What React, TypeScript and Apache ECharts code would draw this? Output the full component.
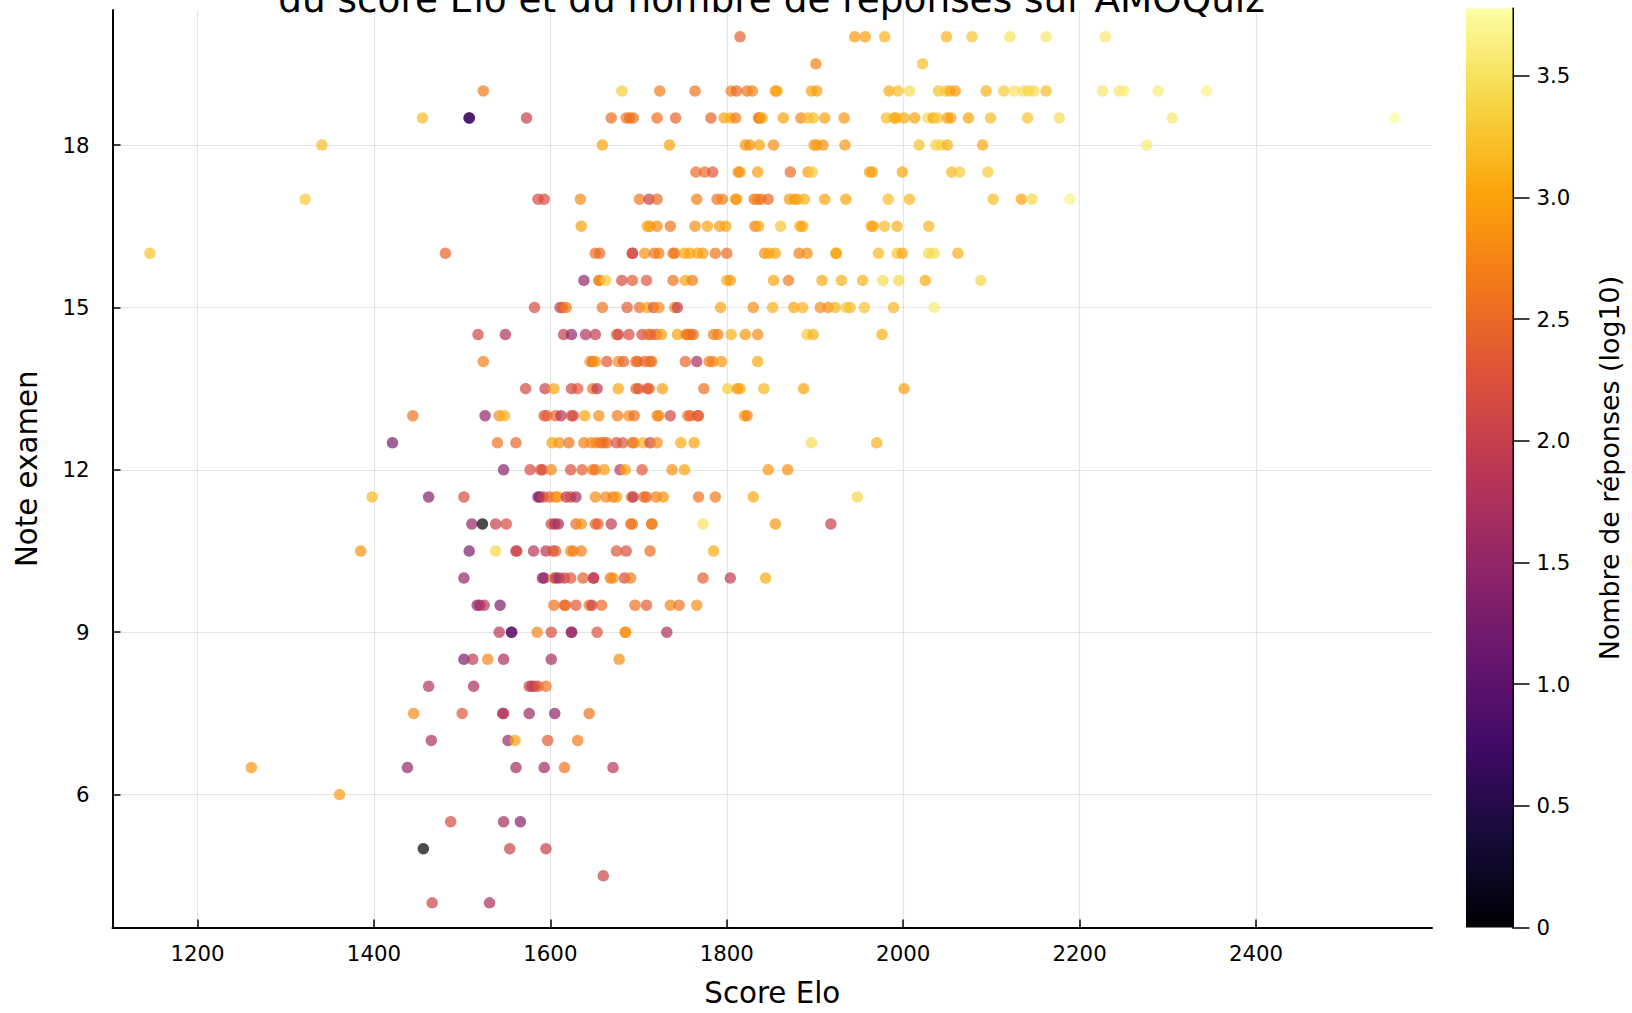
import React, { useEffect, useRef } from "react";
import * as echarts from "echarts";

// each row: [score Elo, log10(nombre de réponses)] for one exam mark
const note20 = [[1815,2.4],[1945,2.9],[1957,2.95],[1979,3.1],[2049,3.1],[2078,3.25],[2121,3.5],[2162,3.55],[2229,3.55]];
const note19_5 = [[1901,2.75],[2022,3.2]];
const note19 = [[1524,2.65],[1681,3.3],[1724,2.7],[1764,2.6],[1805,2.7],[1811,2.5],[1823,2.6],[1829,2.75],[1855,2.85],[1857,3.0],[1896,3.0],[1902,2.95],[1984,3.05],[1994,3.2],[2007,3.45],[2040,3.25],[2048,3.3],[2053,3.05],[2059,2.9],[2094,3.1],[2114,3.3],[2126,3.5],[2136,3.45],[2142,3.4],[2148,3.4],[2162,3.2],[2226,3.55],[2245,3.55],[2250,3.6],[2289,3.6],[2344,3.65]];
const note18_5 = [[1455,3.2],[1508,0.7],[1508,0.7],[1573,2.0],[1669,2.55],[1686,2.65],[1690,2.5],[1694,2.6],[1721,2.55],[1742,2.45],[1782,2.45],[1797,3.0],[1804,3.1],[1810,2.7],[1836,2.6],[1837,2.7],[1840,3.0],[1864,3.0],[1884,2.75],[1892,3.2],[1898,3.2],[1911,3.0],[1933,2.9],[1981,3.2],[1990,3.05],[1992,3.05],[2001,3.05],[2013,3.0],[2028,3.45],[2034,3.0],[2039,3.3],[2050,3.0],[2054,2.95],[2074,3.0],[2099,3.2],[2141,3.25],[2177,3.45],[2305,3.55],[2557,3.75]];
const note18 = [[1341,3.2],[1659,3.0],[1735,3.0],[1821,2.9],[1826,2.85],[1837,3.0],[1853,2.8],[1899,2.9],[1902,2.95],[1909,2.85],[1934,2.9],[2018,3.25],[2037,3.35],[2043,3.35],[2050,3.1],[2090,3.05],[2276,3.6]];
const note17_5 = [[1765,2.5],[1775,2.5],[1784,2.3],[1813,2.75],[1815,2.9],[1835,2.95],[1872,2.5],[1892,2.95],[1897,3.3],[1962,2.95],[1965,3.0],[1999,3.0],[2055,3.15],[2064,3.3],[2096,3.3]];
const note17 = [[1322,3.3],[1586,2.2],[1593,2.2],[1634,2.8],[1701,2.65],[1712,2.0],[1721,2.5],[1766,2.7],[1789,2.6],[1795,2.7],[1810,2.9],[1811,2.9],[1831,2.6],[1835,2.7],[1839,2.6],[1847,2.5],[1871,2.9],[1877,2.95],[1880,3.0],[1888,3.1],[1911,3.0],[1935,3.0],[1983,3.2],[2007,3.15],[2102,3.2],[2134,3.0],[2146,3.4],[2189,3.65]];
const note16_5 = [[1635,3.0],[1710,2.95],[1713,3.0],[1721,2.8],[1736,2.6],[1764,2.8],[1778,3.0],[1792,2.9],[1799,3.0],[1832,2.7],[1836,3.0],[1861,3.25],[1883,3.0],[1886,3.0],[1964,3.0],[1966,3.0],[1979,3.2],[1993,3.1],[2029,3.15]];
const note16 = [[1146,3.25],[1481,2.45],[1651,2.55],[1656,2.5],[1693,2.1],[1693,2.2],[1707,2.85],[1718,2.6],[1723,2.7],[1739,2.7],[1741,2.6],[1752,3.0],[1758,3.0],[1767,3.0],[1773,2.9],[1787,2.6],[1800,2.5],[1843,2.8],[1848,3.0],[1855,3.0],[1882,2.7],[1891,2.8],[1924,3.0],[1924,3.0],[1972,3.15],[1993,3.3],[1999,3.0],[2029,3.4],[2035,3.45],[2062,3.1]];
const note15_5 = [[1638,1.5],[1655,2.5],[1656,2.8],[1663,3.3],[1681,2.2],[1693,2.35],[1709,2.3],[1739,2.6],[1753,3.0],[1761,2.7],[1800,3.1],[1804,2.9],[1853,3.0],[1870,2.65],[1908,3.05],[1930,3.1],[1954,3.1],[1977,3.45],[1995,3.4],[2025,3.05],[2088,3.4]];
const note15 = [[1582,2.2],[1611,2.0],[1614,2.3],[1618,2.7],[1659,2.6],[1687,2.35],[1701,2.55],[1710,3.0],[1717,2.3],[1723,2.8],[1741,2.85],[1744,2.0],[1793,3.0],[1830,2.8],[1852,3.1],[1876,3.0],[1886,3.1],[1906,2.8],[1915,2.8],[1923,3.1],[1936,3.25],[1940,3.2],[1956,3.25],[1989,3.15],[2035,3.6]];
const note14_5 = [[1518,2.1],[1549,1.8],[1615,2.0],[1624,1.5],[1640,1.8],[1651,1.95],[1675,2.5],[1677,2.1],[1689,2.2],[1704,2.2],[1711,2.5],[1714,2.5],[1720,2.4],[1726,2.95],[1744,3.0],[1754,2.6],[1756,2.6],[1759,2.7],[1762,2.5],[1785,2.7],[1790,2.7],[1805,3.1],[1821,2.9],[1835,2.8],[1891,3.3],[1898,3.1],[1976,3.1]];
const note14 = [[1524,2.7],[1645,2.85],[1648,2.5],[1651,2.9],[1664,2.3],[1677,2.8],[1683,2.4],[1697,2.5],[1699,2.5],[1707,2.4],[1713,2.5],[1715,2.6],[1753,2.45],[1766,1.7],[1780,2.7],[1784,2.7],[1794,2.9],[1835,3.05]];
const note13_5 = [[1572,2.15],[1594,2.05],[1604,3.0],[1624,2.1],[1631,2.3],[1648,2.6],[1653,1.9],[1677,3.0],[1697,2.5],[1700,2.3],[1710,2.3],[1712,2.4],[1727,2.95],[1774,2.55],[1801,3.3],[1812,2.85],[1815,3.0],[1842,3.15],[1887,3.0],[2001,2.95]];
const note13 = [[1444,2.6],[1526,1.5],[1542,2.8],[1548,3.1],[1593,2.3],[1596,2.4],[1606,2.5],[1612,1.8],[1624,2.2],[1626,2.2],[1639,3.0],[1655,2.8],[1676,2.65],[1689,2.8],[1695,2.55],[1721,2.8],[1723,2.75],[1736,2.1],[1756,2.5],[1759,2.5],[1767,2.2],[1768,2.45],[1820,3.0],[1823,2.7]];
const note12_5 = [[1421,1.25],[1540,2.6],[1561,2.45],[1602,3.0],[1610,2.85],[1621,2.6],[1638,2.7],[1646,2.8],[1652,2.7],[1657,2.6],[1660,2.65],[1664,2.5],[1675,2.25],[1682,2.3],[1693,2.5],[1695,2.7],[1705,3.1],[1713,2.1],[1721,2.8],[1748,3.05],[1763,3.0],[1896,3.45],[1970,3.1]];
const note12 = [[1547,1.4],[1577,2.2],[1589,2.3],[1591,2.2],[1601,2.75],[1623,2.25],[1636,2.4],[1648,2.7],[1651,2.6],[1661,2.9],[1679,1.9],[1685,3.0],[1704,2.3],[1738,2.85],[1752,3.0],[1847,2.9],[1869,2.85]];
const note11_5 = [[1398,3.15],[1462,1.35],[1502,2.2],[1586,1.2],[1588,1.4],[1592,2.0],[1599,2.4],[1606,2.6],[1609,3.0],[1618,1.9],[1623,2.1],[1629,1.7],[1651,2.8],[1663,2.75],[1671,2.7],[1675,2.9],[1692,2.6],[1694,1.9],[1706,2.5],[1709,2.5],[1720,2.7],[1728,2.85],[1768,2.6],[1787,2.65],[1830,3.05],[1948,3.4]];
const note11 = [[1511,1.55],[1523,0],[1538,2.0],[1550,2.2],[1601,2.1],[1605,1.8],[1609,1.7],[1629,2.5],[1635,2.8],[1651,2.4],[1654,2.4],[1669,1.95],[1691,2.6],[1693,2.6],[1715,2.6],[1715,2.7],[1773,3.5],[1855,2.9],[1918,2.05]];
const note10_5 = [[1385,2.85],[1508,1.3],[1538,3.4],[1561,1.9],[1562,2.1],[1581,1.85],[1595,1.9],[1603,2.2],[1606,2.4],[1623,2.8],[1626,2.7],[1635,2.7],[1675,2.3],[1686,2.2],[1713,2.55],[1785,3.05]];
const note10 = [[1502,1.5],[1591,1.5],[1593,1.5],[1604,3.0],[1606,1.7],[1610,1.6],[1616,2.0],[1623,2.3],[1637,2.4],[1649,2.0],[1649,1.9],[1668,2.65],[1671,2.8],[1684,2.2],[1691,2.65],[1773,2.4],[1804,1.95],[1844,3.05]];
const note9_5 = [[1517,1.5],[1520,1.55],[1525,1.85],[1543,1.3],[1604,2.6],[1616,2.5],[1617,2.5],[1629,2.3],[1644,2.7],[1647,2.0],[1658,2.5],[1696,2.55],[1709,2.35],[1736,2.75],[1746,2.6],[1766,2.8]];
const note9 = [[1542,1.85],[1556,1.05],[1556,1.05],[1585,2.75],[1601,2.2],[1624,1.3],[1624,1.6],[1653,2.25],[1685,2.85],[1685,2.85],[1732,1.75]];
const note8_5 = [[1502,1.3],[1512,1.95],[1529,2.75],[1547,1.7],[1601,1.7],[1678,2.8]];
const note8 = [[1462,1.8],[1513,1.7],[1576,2.1],[1579,2.0],[1582,1.9],[1586,2.3],[1595,2.6]];
const note7_5 = [[1445,2.8],[1500,2.3],[1546,1.5],[1547,1.9],[1576,1.6],[1605,1.45],[1644,2.6]];
const note7 = [[1465,1.75],[1552,1.55],[1560,3.0],[1597,2.35],[1631,2.65]];
const note6_5 = [[1261,2.9],[1438,1.5],[1561,1.65],[1593,1.6],[1616,2.6],[1671,1.85]];
const note6 = [[1361,2.95]];
const note5_5 = [[1487,2.2],[1547,1.65],[1566,1.35]];
const note5 = [[1456,0],[1554,2.05],[1595,2.0]];
const note4_5 = [[1660,2.05]];
const note4 = [[1466,2.05],[1531,1.75]];

const rows: [number, number[][]][] = [
  [20, note20],[19.5, note19_5],[19, note19],[18.5, note18_5],[18, note18],[17.5, note17_5],[17, note17],
  [16.5, note16_5],[16, note16],[15.5, note15_5],[15, note15],[14.5, note14_5],[14, note14],[13.5, note13_5],
  [13, note13],[12.5, note12_5],[12, note12],[11.5, note11_5],[11, note11],[10.5, note10_5],[10, note10],
  [9.5, note9_5],[9, note9],[8.5, note8_5],[8, note8],[7.5, note7_5],[7, note7],[6.5, note6_5],[6, note6],
  [5.5, note5_5],[5, note5],[4.5, note4_5],[4, note4],
];

const xTicks = [1200, 1400, 1600, 1800, 2000, 2200, 2400];
const yTicks = [6, 9, 12, 15, 18];
const barTicks = [0, 0.5, 1, 1.5, 2, 2.5, 3, 3.5];
const barMax = 3.776;
const inferno = ["#000004","#160b39","#420a68","#6a176e","#932667","#bc3754","#dd513a","#f37819","#fca50a","#f6d746","#fcffa4"];
const FONT = "DejaVu Sans";

export default function App() {
  const ref = useRef<HTMLDivElement>(null);
  useEffect(() => {
    const chart = echarts.init(ref.current!, null, { renderer: "svg" });
    const points = rows.flatMap(([note, pts]) => pts.map(([elo, c]) => [elo, note, c]));
    chart.setOption({
      animation: false,
      backgroundColor: "#fff",
      title: {
        text: "du score Elo et du nombre de réponses sur AMOQuiz",
        left: 766.5,
        top: -24.5,
        textAlign: "center",
        textStyle: { fontFamily: FONT, fontSize: 37.4, fontWeight: "normal", color: "#000" },
      },
      grid: [
        { left: 112.5, right: 200, top: 10, bottom: 85.5 },
        { left: 1466, width: 46.5, top: 8.5, bottom: 85.5 },
      ],
      xAxis: [
        {
          type: "value", gridIndex: 0, min: 1103.6, max: 2599.5,
          name: "Score Elo", nameLocation: "middle", nameGap: 51,
          nameTextStyle: { fontFamily: FONT, fontSize: 29.3, color: "#000" },
          axisLine: { show: true, onZero: false, lineStyle: { color: "#000", width: 2 } },
          axisTick: { show: true, inside: true, length: 8, customValues: xTicks, lineStyle: { color: "#000", width: 1.5 } },
          axisLabel: { customValues: xTicks, formatter: (v: number) => String(v), fontFamily: FONT, fontSize: 21.3, color: "#000", margin: 15 },
          splitLine: { show: true, lineStyle: { color: "rgba(0,0,0,0.1)", width: 1.2 } },
        },
        {
          type: "category", gridIndex: 1, data: ["c"],
          axisLine: { show: false }, axisTick: { show: false }, axisLabel: { show: false }, splitLine: { show: false },
        },
      ],
      yAxis: [
        {
          type: "value", gridIndex: 0, min: 3.545, max: 20.495,
          name: "Note examen", nameLocation: "middle", nameRotate: 90, nameGap: 71,
          nameTextStyle: { fontFamily: FONT, fontSize: 29.3, color: "#000" },
          axisLine: { show: true, onZero: false, lineStyle: { color: "#000", width: 2 } },
          axisTick: { show: true, inside: true, length: 8, customValues: yTicks, lineStyle: { color: "#000", width: 1.5 } },
          axisLabel: { customValues: yTicks, fontFamily: FONT, fontSize: 21.3, color: "#000", margin: 23 },
          splitLine: { show: true, lineStyle: { color: "rgba(0,0,0,0.1)", width: 1.2 } },
        },
        {
          type: "value", gridIndex: 1, min: 0, max: barMax, position: "right",
          name: "Nombre de réponses (log10)", nameLocation: "middle", nameRotate: 90, nameGap: 83,
          nameTextStyle: { fontFamily: FONT, fontSize: 26.9, color: "#000" },
          axisLine: { show: true, onZero: false, lineStyle: { color: "#000", width: 2 } },
          axisTick: { show: true, length: 17, customValues: barTicks, lineStyle: { color: "#000", width: 1.5 } },
          axisLabel: {
            customValues: barTicks, fontFamily: FONT, fontSize: 21.3, color: "#000", margin: 24,
            formatter: (v: number) => (v === 0 ? "0" : v.toFixed(1)),
          },
          splitLine: { show: false },
        },
      ],
      visualMap: {
        show: false, type: "continuous", seriesIndex: 0, dimension: 2,
        min: 0, max: barMax, inRange: { color: inferno },
      },
      series: [
        {
          type: "scatter", xAxisIndex: 0, yAxisIndex: 0, data: points,
          symbol: "circle", symbolSize: 11.5,
          itemStyle: { opacity: 0.7, borderWidth: 0 },
        },
        {
          type: "bar", xAxisIndex: 1, yAxisIndex: 1, data: [barMax], barWidth: "100%",
          itemStyle: {
            color: new echarts.graphic.LinearGradient(0, 1, 0, 0,
              inferno.map((color, i) => ({ offset: i / (inferno.length - 1), color }))),
          },
        },
      ],
    });
    return () => chart.dispose();
  }, []);
  return <div ref={ref} style={{ position: "absolute", left: 0, top: 0, width: 1632, height: 1013 }} />;
}
